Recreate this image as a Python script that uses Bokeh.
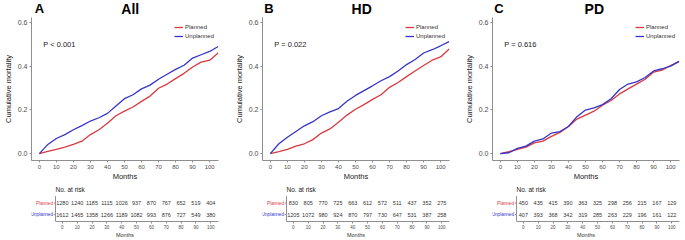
from bokeh.plotting import figure
from bokeh.models import Range1d, FixedTicker, PrintfTickFormatter, Label, Legend, LegendItem
from bokeh.layouts import row, column
from bokeh.embed import file_html
from bokeh.resources import INLINE
from bokeh.core.properties import value

# ---------------- data ----------------
months = [0, 5, 10, 15, 20, 25, 30, 35, 40, 45, 50, 55, 60, 65, 70, 75, 80, 85, 90, 95, 100, 105]

all_planned = [0, 0.010, 0.019, 0.030, 0.042, 0.057, 0.087, 0.109, 0.139, 0.173, 0.194, 0.213,
               0.239, 0.263, 0.299, 0.318, 0.343, 0.367, 0.396, 0.418, 0.427, 0.460]
all_unplanned = [0, 0.042, 0.069, 0.087, 0.109, 0.128, 0.149, 0.164, 0.184, 0.218, 0.251, 0.269,
                 0.296, 0.313, 0.340, 0.363, 0.385, 0.404, 0.437, 0.452, 0.467, 0.490]
hd_planned = [0, 0.009, 0.019, 0.034, 0.045, 0.064, 0.094, 0.113, 0.143, 0.176, 0.203, 0.224,
              0.248, 0.269, 0.303, 0.325, 0.352, 0.378, 0.403, 0.427, 0.442, 0.478]
hd_unplanned = [0, 0.045, 0.075, 0.101, 0.127, 0.146, 0.173, 0.191, 0.206, 0.239, 0.266, 0.288,
                0.310, 0.333, 0.352, 0.378, 0.407, 0.430, 0.460, 0.475, 0.493, 0.512]
pd_planned = [0, 0.009, 0.019, 0.030, 0.049, 0.057, 0.079, 0.097, 0.124, 0.158, 0.176, 0.194,
              0.221, 0.243, 0.273, 0.296, 0.318, 0.340, 0.373, 0.382, 0.403, 0.422]
pd_unplanned = [0, 0.004, 0.024, 0.034, 0.057, 0.067, 0.094, 0.101, 0.124, 0.169, 0.199, 0.209,
                0.224, 0.251, 0.293, 0.318, 0.328, 0.348, 0.378, 0.388, 0.400, 0.422]

risk_months = [0, 10, 20, 30, 40, 50, 60, 70, 80, 90, 100]
all_risk_planned = [1280, 1240, 1185, 1115, 1026, 937, 870, 767, 652, 519, 404]
all_risk_unplanned = [1612, 1465, 1358, 1266, 1189, 1082, 993, 876, 727, 549, 380]
hd_risk_planned = [830, 805, 770, 725, 663, 612, 572, 511, 437, 352, 275]
hd_risk_unplanned = [1205, 1072, 980, 924, 870, 797, 730, 647, 531, 387, 258]
pd_risk_planned = [450, 435, 415, 390, 363, 325, 298, 256, 215, 167, 129]
pd_risk_unplanned = [407, 393, 368, 342, 319, 285, 263, 229, 196, 161, 122]

groups = ["Planned", "Unplanned"]
group_rows = [2, 1]
panel_letters = ["A", "B", "C"]
panel_titles = ["All", "HD", "PD"]
p_values = ["P < 0.001", "P = 0.022", "P = 0.616"]
y_ticks = [0, 0.2, 0.4, 0.6]

RED = "#D93A3F"
BLUE = "#3434CC"
GROUP_COLORS = [RED, BLUE]
AXIS = "#8f8f8f"
TICKTXT = "#4d4d4d"
FONT = "Liberation Sans"

# layout constants (pixels)
FRAME_L, FRAME_R = 28, 218
HEAD_H, TOP_H, TAB_H = 17, 166, 57
X0, X1 = -4.6, 105.2
PX = (FRAME_R - FRAME_L) / (X1 - X0)
Y0 = -0.0315
YTOP = Y0 + (TOP_H - 20) / 223.3
T_Y0, T_PX = 0.4, 26 / 2.2
T_YTOP = T_Y0 + (TAB_H - 18) / T_PX


def style_axis(ax, label_size, standoff):
    ax.axis_line_color = AXIS
    ax.major_tick_line_color = AXIS
    ax.minor_tick_line_color = None
    ax.major_tick_in = 0
    ax.major_tick_out = 2
    ax.major_label_text_font = FONT
    ax.major_label_text_font_size = label_size
    ax.major_label_text_color = TICKTXT
    ax.major_label_standoff = standoff


def lab(fig, x, y, text, size, color="black", bold=False, align="center", baseline="middle"):
    fig.add_layout(Label(x=x, y=y, text=text, text_font=FONT, text_font_size=size,
                         text_color=color, text_font_style="bold" if bold else "normal",
                         text_align=align, text_baseline=baseline))


def bare(fig):
    fig.outline_line_color = None
    fig.grid.grid_line_color = None
    fig.background_fill_color = "white"
    fig.border_fill_color = "white"


def make_panel(i, planned, unplanned, risk_p, risk_u, width, letter_x):
    right = width - FRAME_R

    # header with panel letter and title
    h = figure(width=width, height=HEAD_H, x_range=Range1d(0, width), y_range=Range1d(HEAD_H, 0),
               output_backend="svg", toolbar_location=None,
               min_border_left=0, min_border_right=0, min_border_top=0, min_border_bottom=0)
    bare(h)
    h.axis.visible = False
    lab(h, letter_x, 8, panel_letters[i], "13px", bold=True, align="left")
    lab(h, (FRAME_L + FRAME_R) / 2 - 1, 8.6, panel_titles[i], "14px", bold=True)

    # survival curves
    p = figure(width=width, height=TOP_H, x_range=Range1d(X0, X1), y_range=Range1d(Y0, YTOP),
               output_backend="svg", toolbar_location=None,
               min_border_left=FRAME_L, min_border_right=right, min_border_top=0, min_border_bottom=20)
    bare(p)
    p.xaxis.ticker = FixedTicker(ticks=risk_months)
    p.yaxis.ticker = FixedTicker(ticks=y_ticks)
    p.yaxis.formatter = PrintfTickFormatter(format="%.1f")
    style_axis(p.xaxis[0], "6px", 2)
    style_axis(p.yaxis[0], "7px", 2)
    p.yaxis.axis_label = "Cumulative mortality"
    p.xaxis.axis_label = "Months"
    for ax in (p.xaxis[0], p.yaxis[0]):
        ax.axis_label_text_font = FONT
        ax.axis_label_text_font_size = "7.5px"
        ax.axis_label_text_font_style = "normal"
        ax.axis_label_text_color = "#1a1a1a"
    p.yaxis.axis_label_standoff = 2
    p.xaxis.axis_label_standoff = 0

    r1 = p.line(months, planned, line_color=RED, line_width=1.3)
    r2 = p.line(months, unplanned, line_color=BLUE, line_width=1.3)

    leg = Legend(items=[LegendItem(label=groups[0], renderers=[r1]),
                        LegendItem(label=groups[1], renderers=[r2])],
                 location=(143, 120), padding=0, margin=0, spacing=1,
                 glyph_width=9, glyph_height=8, label_height=8, label_standoff=2,
                 label_text_font=FONT, label_text_font_size="6px", label_text_color="#333333",
                 border_line_color=None, background_fill_alpha=0)
    p.add_layout(leg)
    lab(p, 2.3, 0.50, p_values[i], "7.5px", color="#1a1a1a", align="left")

    # risk table
    tx0 = X0 - FRAME_L / PX
    t = figure(width=width, height=TAB_H, x_range=Range1d(tx0, X1), y_range=Range1d(T_Y0, T_YTOP),
               output_backend="svg", toolbar_location=None,
               min_border_left=0, min_border_right=right, min_border_top=0, min_border_bottom=18)
    bare(t)
    t.yaxis.visible = False
    t.xaxis.ticker = FixedTicker(ticks=risk_months)
    t.xaxis.bounds = (X0, X1)
    style_axis(t.xaxis[0], "4.5px", 1)
    t.xaxis.axis_label = "Months"
    t.xaxis.axis_label_text_font = FONT
    t.xaxis.axis_label_text_font_size = "5.5px"
    t.xaxis.axis_label_text_font_style = "normal"
    t.xaxis.axis_label_text_color = "#333333"
    t.xaxis.axis_label_standoff = 0

    # table's vertical axis line with ticks at the rows
    t.segment(x0=[X0], y0=[T_Y0], x1=[X0], y1=[2.6], line_color=AXIS, line_width=1)
    t.segment(x0=[X0 - 2 / PX] * 2, y0=group_rows, x1=[X0] * 2, y1=group_rows,
              line_color=AXIS, line_width=1)

    for vals, yrow in ((risk_p, group_rows[0]), (risk_u, group_rows[1])):
        t.text(x=risk_months, y=[yrow] * len(risk_months), text=[str(v) for v in vals],
               text_font=value(FONT), text_font_size="5.5px", text_color="#333333",
               text_align="center", text_baseline="middle")
    t.text(x=[X0 - 3 / PX] * 2, y=group_rows, text=groups, text_color=GROUP_COLORS,
           text_font=value(FONT), text_font_size="4.6px", text_align="right", text_baseline="middle")
    t.text(x=[X0], y=[T_Y0 + 32.5 / T_PX], text=["No. at risk"],
           text_font=value(FONT), text_font_size="6.5px", text_color="#1a1a1a",
           text_align="left", text_baseline="middle")

    return column(h, p, t)


colA = make_panel(0, all_planned, all_unplanned, all_risk_planned, all_risk_unplanned, 231, 4)
colB = make_panel(1, hd_planned, hd_unplanned, hd_risk_planned, hd_risk_unplanned, 230, 2)
colC = make_panel(2, pd_planned, pd_unplanned, pd_risk_planned, pd_risk_unplanned, 224, 2)

layout = row(colA, colB, colC)
open("out.html", "w").write(file_html(layout, INLINE))
